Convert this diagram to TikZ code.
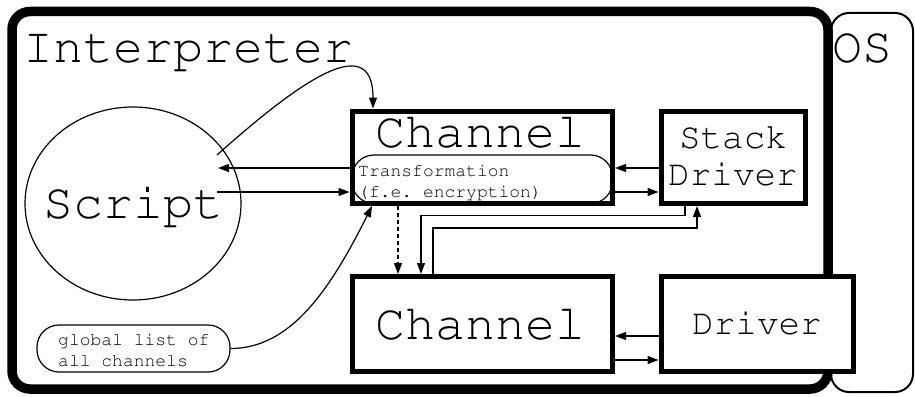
\documentclass[tikz,border=0pt]{standalone}
\usepackage[T1,TU]{fontenc}
\usetikzlibrary{shapes.geometric,arrows.meta,calc}
% Courier (URW Nimbus Mono) at a given size and line spacing
\newcommand\courier[2]{\fontencoding{T1}\fontfamily{pcr}\fontseries{m}\fontshape{n}\fontsize{#1}{#2}\selectfont\frenchspacing}
\tikzset{
  heavybox/.style={draw, line width=5pt, inner sep=0pt},
  thinround/.style={draw, line width=1.2pt, rounded corners=22pt, inner sep=0pt},
  bigtext/.style={font=\courier{50}{50}, inner sep=0pt},
  midtext/.style={font=\courier{36}{37}, inner sep=0pt, align=center},
  smalltext/.style={font=\courier{18}{21}, inner sep=0pt, align=left},
  arr/.style={line width=1.2pt, -{Triangle[length=11pt,width=8pt]}},
}
\begin{document}
\begin{tikzpicture}[x=1pt, y=-1pt]
\useasboundingbox (0,0) rectangle (915,396);

% operating system area and the interpreter frame
\node[draw, line width=2pt, rounded corners=18pt, inner sep=0pt,
      minimum width=82pt, minimum height=379pt] (os) at (872,202.5) {};
\node[draw, line width=9.5pt, rounded corners=18pt, inner sep=0pt,
      minimum width=816pt, minimum height=377.5pt] (interp) at (420,200.25) {};
\node[bigtext, anchor=base west] (interp-label) at (23,63) {Interpreter};
\node[bigtext, anchor=base west] (os-label) at (832,63) {OS};

% script
\node[ellipse, draw, line width=1.2pt, inner sep=0pt,
      minimum width=216pt, minimum height=193pt] (script) at (133,203.5) {};
\node[bigtext, anchor=base] (script-label) at (133,218) {Script};

% upper channel with its transformation (multi-line labels sit on their last baseline)
\node[thinround, minimum width=260.5pt, minimum height=48.5pt] (trans) at (482.25,179.25) {};
\node[heavybox, minimum width=260.5pt, minimum height=92.5pt] (chan1) at (482.25,157.25) {};
\node[bigtext, anchor=base] (chan1-label) at (480,147) {Channel};
\node[smalltext, anchor=base west] (trans-label) at (358,197) {Transformation\\(f.e. encryption)};

% stack driver
\node[heavybox, minimum width=144pt, minimum height=92.5pt] (stack) at (733,157.25) {};
\node[midtext, anchor=base] (stack-label) at (733,185) {Stack\\Driver};

% lower channel and driver
\node[heavybox, minimum width=260.5pt, minimum height=94.5pt] (chan2) at (482.25,323.75) {};
\node[bigtext, anchor=base] (chan2-label) at (480,339) {Channel};
\node[heavybox, fill=white, minimum width=192pt, minimum height=94.5pt] (driver) at (757,323.75) {};
\node[font=\courier{36}{36}, inner sep=0pt, anchor=base] (driver-label) at (757,334) {Driver};

% global channel list
\node[thinround, minimum width=193pt, minimum height=47pt] (glist) at (133.5,348.5) {};
\node[smalltext, anchor=base west] (glist-label) at (58,366) {global list of\\all channels};

% script <-> channel
\draw[arr] ($(script.center)+(84,-48.5)$) .. controls +(73,-65) and +(0,-83) .. ($(chan1.north west)+(23.5,0)$);
\draw[arr] ($(chan1.west)+(0,10.75)$) -- ($(script.center)+(85,-35.5)$);
\draw[arr] ($(script.center)+(84,-11.5)$) -- ($(chan1.west)+(0,34.75)$);

% channel <-> stack driver
\draw[arr] ($(stack.west)+(0,10.75)$) -- ($(chan1.east)+(0,10.75)$);
\draw[arr] ($(chan1.east)+(0,34.75)$) -- ($(stack.west)+(0,34.75)$);

% stacking links down to the lower channel
\draw[arr, dash pattern=on 4pt off 3pt] ($(chan1.south west)+(48.5,0)$) -- ($(chan2.north west)+(48.5,0)$);
\draw[arr] ($(stack.south west)+(26.5,0)$) |- ($(chan1.south west)+(71.5,9.5)$) -- ($(chan2.north west)+(71.5,0)$);
\draw[arr] ($(chan2.north west)+(83.5,0)$) |- ($(stack.south west)+(38.5,22)$) -- ($(stack.south west)+(38.5,0)$);

% channel <-> driver
\draw[arr] ($(driver.west)+(0,12.25)$) -- ($(chan2.east)+(0,12.25)$);
\draw[arr] ($(chan2.east)+(0,36.25)$) -- ($(driver.west)+(0,36.25)$);

% channel list reference
\draw[arr] (glist.east) .. controls +(60,0) and +(-42,84) .. ($(chan1.south west)+(22.5,0)$);
\end{tikzpicture}
\end{document}
